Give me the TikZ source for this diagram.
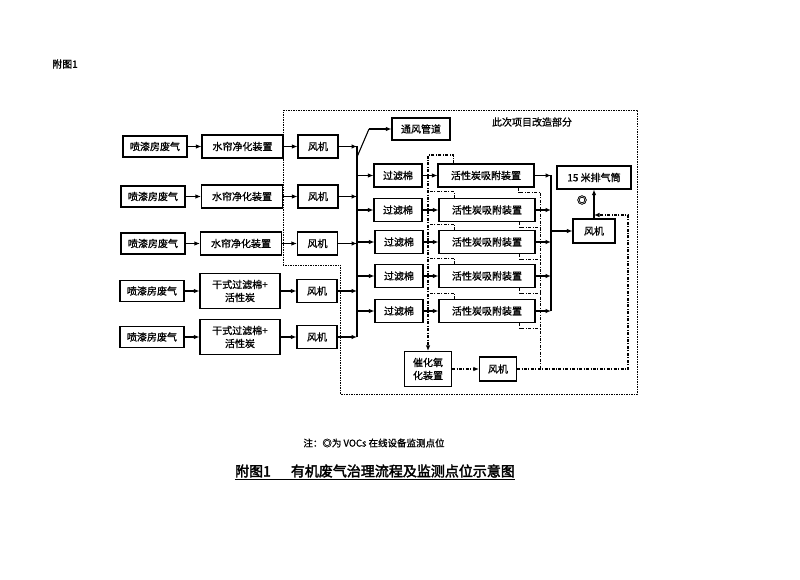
\documentclass[tikz,border=0pt]{standalone}
\usepackage{fontspec}
\newfontfamily\cjk{Noto Sans CJK SC}[FakeBold=1]
\newfontfamily\cjkb{Noto Sans CJK SC}[FakeBold=2.5]
\usetikzlibrary{arrows.meta,calc}
\begin{document}
\begin{tikzpicture}[x=1pt,y=-1pt,
 box/.style={draw,line width=1.1pt,inner sep=0pt,align=center,font=\cjk\fontsize{10}{13}\selectfont},
 srcbox/.style={box,minimum width=64pt,minimum height=21pt},
 wcbox/.style={box,minimum width=81pt,minimum height=23pt},
 drybox/.style={box,minimum width=80pt,minimum height=35pt},
 fanbox/.style={box,minimum width=40pt,minimum height=23pt},
 filtbox/.style={box,minimum width=48pt,minimum height=23pt},
 adsbox/.style={box,minimum width=96pt,minimum height=23pt},
 arr/.style={-{Latex[length=5.5pt,width=4.5pt]},line width=1.1pt},
 ln/.style={line width=1.1pt},
 dd/.style={line width=0.9pt,dash pattern=on 3pt off 1.5pt on 0.9pt off 1.5pt},
 bd/.style={line width=0.9pt,dash pattern=on 1.5pt off 1pt},
 txt/.style={font=\cjk\fontsize{10}{12}\selectfont,inner sep=0pt},
]
\useasboundingbox (0,0) rectangle (800,580);
\fill[white] (0,0) rectangle (800,580);

\node[txt] (fig) at (65,64) {附图1};

% boundary of the reworked part
\draw[bd] (283,110) -- (637,110) -- (637,394) -- (340,394) -- (340,265) -- (283,265) -- cycle;
\node[txt] (lbl) at (532,122) {此次项目改造部分};

% sources
\node[srcbox] (src1) at (155,146.5) {喷漆房废气};
\node[srcbox] (src2) at (153,196.5) {喷漆房废气};
\node[srcbox] (src3) at (153,243.5) {喷漆房废气};
\node[srcbox] (src4) at (152,291) {喷漆房废气};
\node[srcbox] (src5) at (152,337) {喷漆房废气};

\node[wcbox] (wc1) at (242.5,146.5) {水帘净化装置};
\node[wcbox] (wc2) at (242,196.5) {水帘净化装置};
\node[wcbox] (wc3) at (241,243.5) {水帘净化装置};
\node[drybox] (wc4) at (240,291) {干式过滤棉+\\活性炭};
\node[drybox] (wc5) at (240,337) {干式过滤棉+\\活性炭};

\node[fanbox] (fan1) at (318,146.5) {风机};
\node[fanbox] (fan2) at (318,196.5) {风机};
\node[fanbox] (fan3) at (317.5,243.5) {风机};
\node[fanbox] (fan4) at (317,291) {风机};
\node[fanbox] (fan5) at (317,337) {风机};

\foreach \i in {1,...,5}{
  \draw[arr] (src\i.east) -- (wc\i.west);
  \draw[arr] (wc\i.east) -- (fan\i.west);
}

% first collector
\coordinate (c1t) at (357,146.5);
\coordinate (c1b) at (357,337);
\draw[ln] (c1t) -- (c1b);
\foreach \i in {1,...,5}{
  \draw[arr] (fan\i.east) -- (fan\i.east -| c1t);
}
\node[box,minimum width=58pt,minimum height=22pt] (duct) at (421,129) {通风管道};
\coordinate (c1d) at (357,157);
\coordinate (dk) at (369,129);
\draw[ln] (c1d) -- (dk);
\draw[arr] (dk) -- (duct.west);

% filters and adsorbers
\node[filtbox] (filt1) at (398,175.5) {过滤棉};
\node[filtbox] (filt2) at (398,210) {过滤棉};
\node[filtbox] (filt3) at (399,242) {过滤棉};
\node[filtbox] (filt4) at (399,276) {过滤棉};
\node[filtbox] (filt5) at (399,311) {过滤棉};

\node[adsbox] (ads1) at (486,175.5) {活性炭吸附装置};
\node[adsbox] (ads2) at (487,210) {活性炭吸附装置};
\node[adsbox] (ads3) at (487,242) {活性炭吸附装置};
\node[adsbox] (ads4) at (487,276) {活性炭吸附装置};
\node[adsbox] (ads5) at (487,311) {活性炭吸附装置};

\foreach \i in {1,...,5}{
  \draw[arr] (filt\i.west -| c1t) -- (filt\i.west);
  \draw[arr] (filt\i.east) -- (ads\i.west);
}

% second collector
\coordinate (c2t) at (551,175.5);
\coordinate (c2b) at (551,311);
\draw[ln] (c2t) -- (c2b);
\foreach \i in {1,...,5}{
  \draw[arr] (ads\i.east) -- (ads\i.east -| c2t);
}
\node[box,minimum width=42pt,minimum height=24pt] (mainfan) at (594,231) {风机};
\node[box,minimum width=74pt,minimum height=23pt] (stack) at (594,177.5) {15 米排气筒};
\draw[arr] (mainfan.west -| c2t) -- (mainfan.west);
\draw[arr] (mainfan.north) -- (stack.south);
\node[font=\cjkb\fontsize{10}{11}\selectfont,inner sep=0pt] (mon) at (582,200) {◎};

% catalytic oxidation branch
\node[box,minimum width=47pt,minimum height=35pt] (cat) at (428,369) {催化氧\\化装置};
\node[box,minimum width=37pt,minimum height=24pt] (fan6) at (498,369) {风机};

\coordinate (lt) at (428,155);
\draw[dd,arr] ($(ads1.north west)+(16,0)$) |- (lt) -- (cat.north);
\foreach \i in {2,...,5}{
  \draw[dd] ($(ads\i.north west)+(16,0)$) |- ++(-26,-6);
}
\foreach \i in {1,...,5}{
  \draw[dd] ($(ads\i.south east)+(-16,0)$) |- ++(22,5);
}
\coordinate (rt) at (540,193);
\draw[dd] (rt) -- (rt |- fan6.east);
\draw[dd,arr] (cat.east) -- (fan6.west);
\coordinate (rr) at (628,215);
\draw[dd,arr] (fan6.east) -| (rr) -- (rr -| mainfan.north);

% captions
\node[font=\cjk\fontsize{9.5}{11}\selectfont,inner sep=0pt] (note) at (374,443) {注：◎为 VOCs 在线设备监测点位};
\node[font=\cjkb\fontsize{14}{16}\selectfont,inner sep=0pt] (title) at (375,471) {附图1\hspace{20pt}有机废气治理流程及监测点位示意图};
\draw[line width=1pt] ($(title.south west)+(0,1.5)$) -- ($(title.south east)+(0,1.5)$);
\end{tikzpicture}
\end{document}
